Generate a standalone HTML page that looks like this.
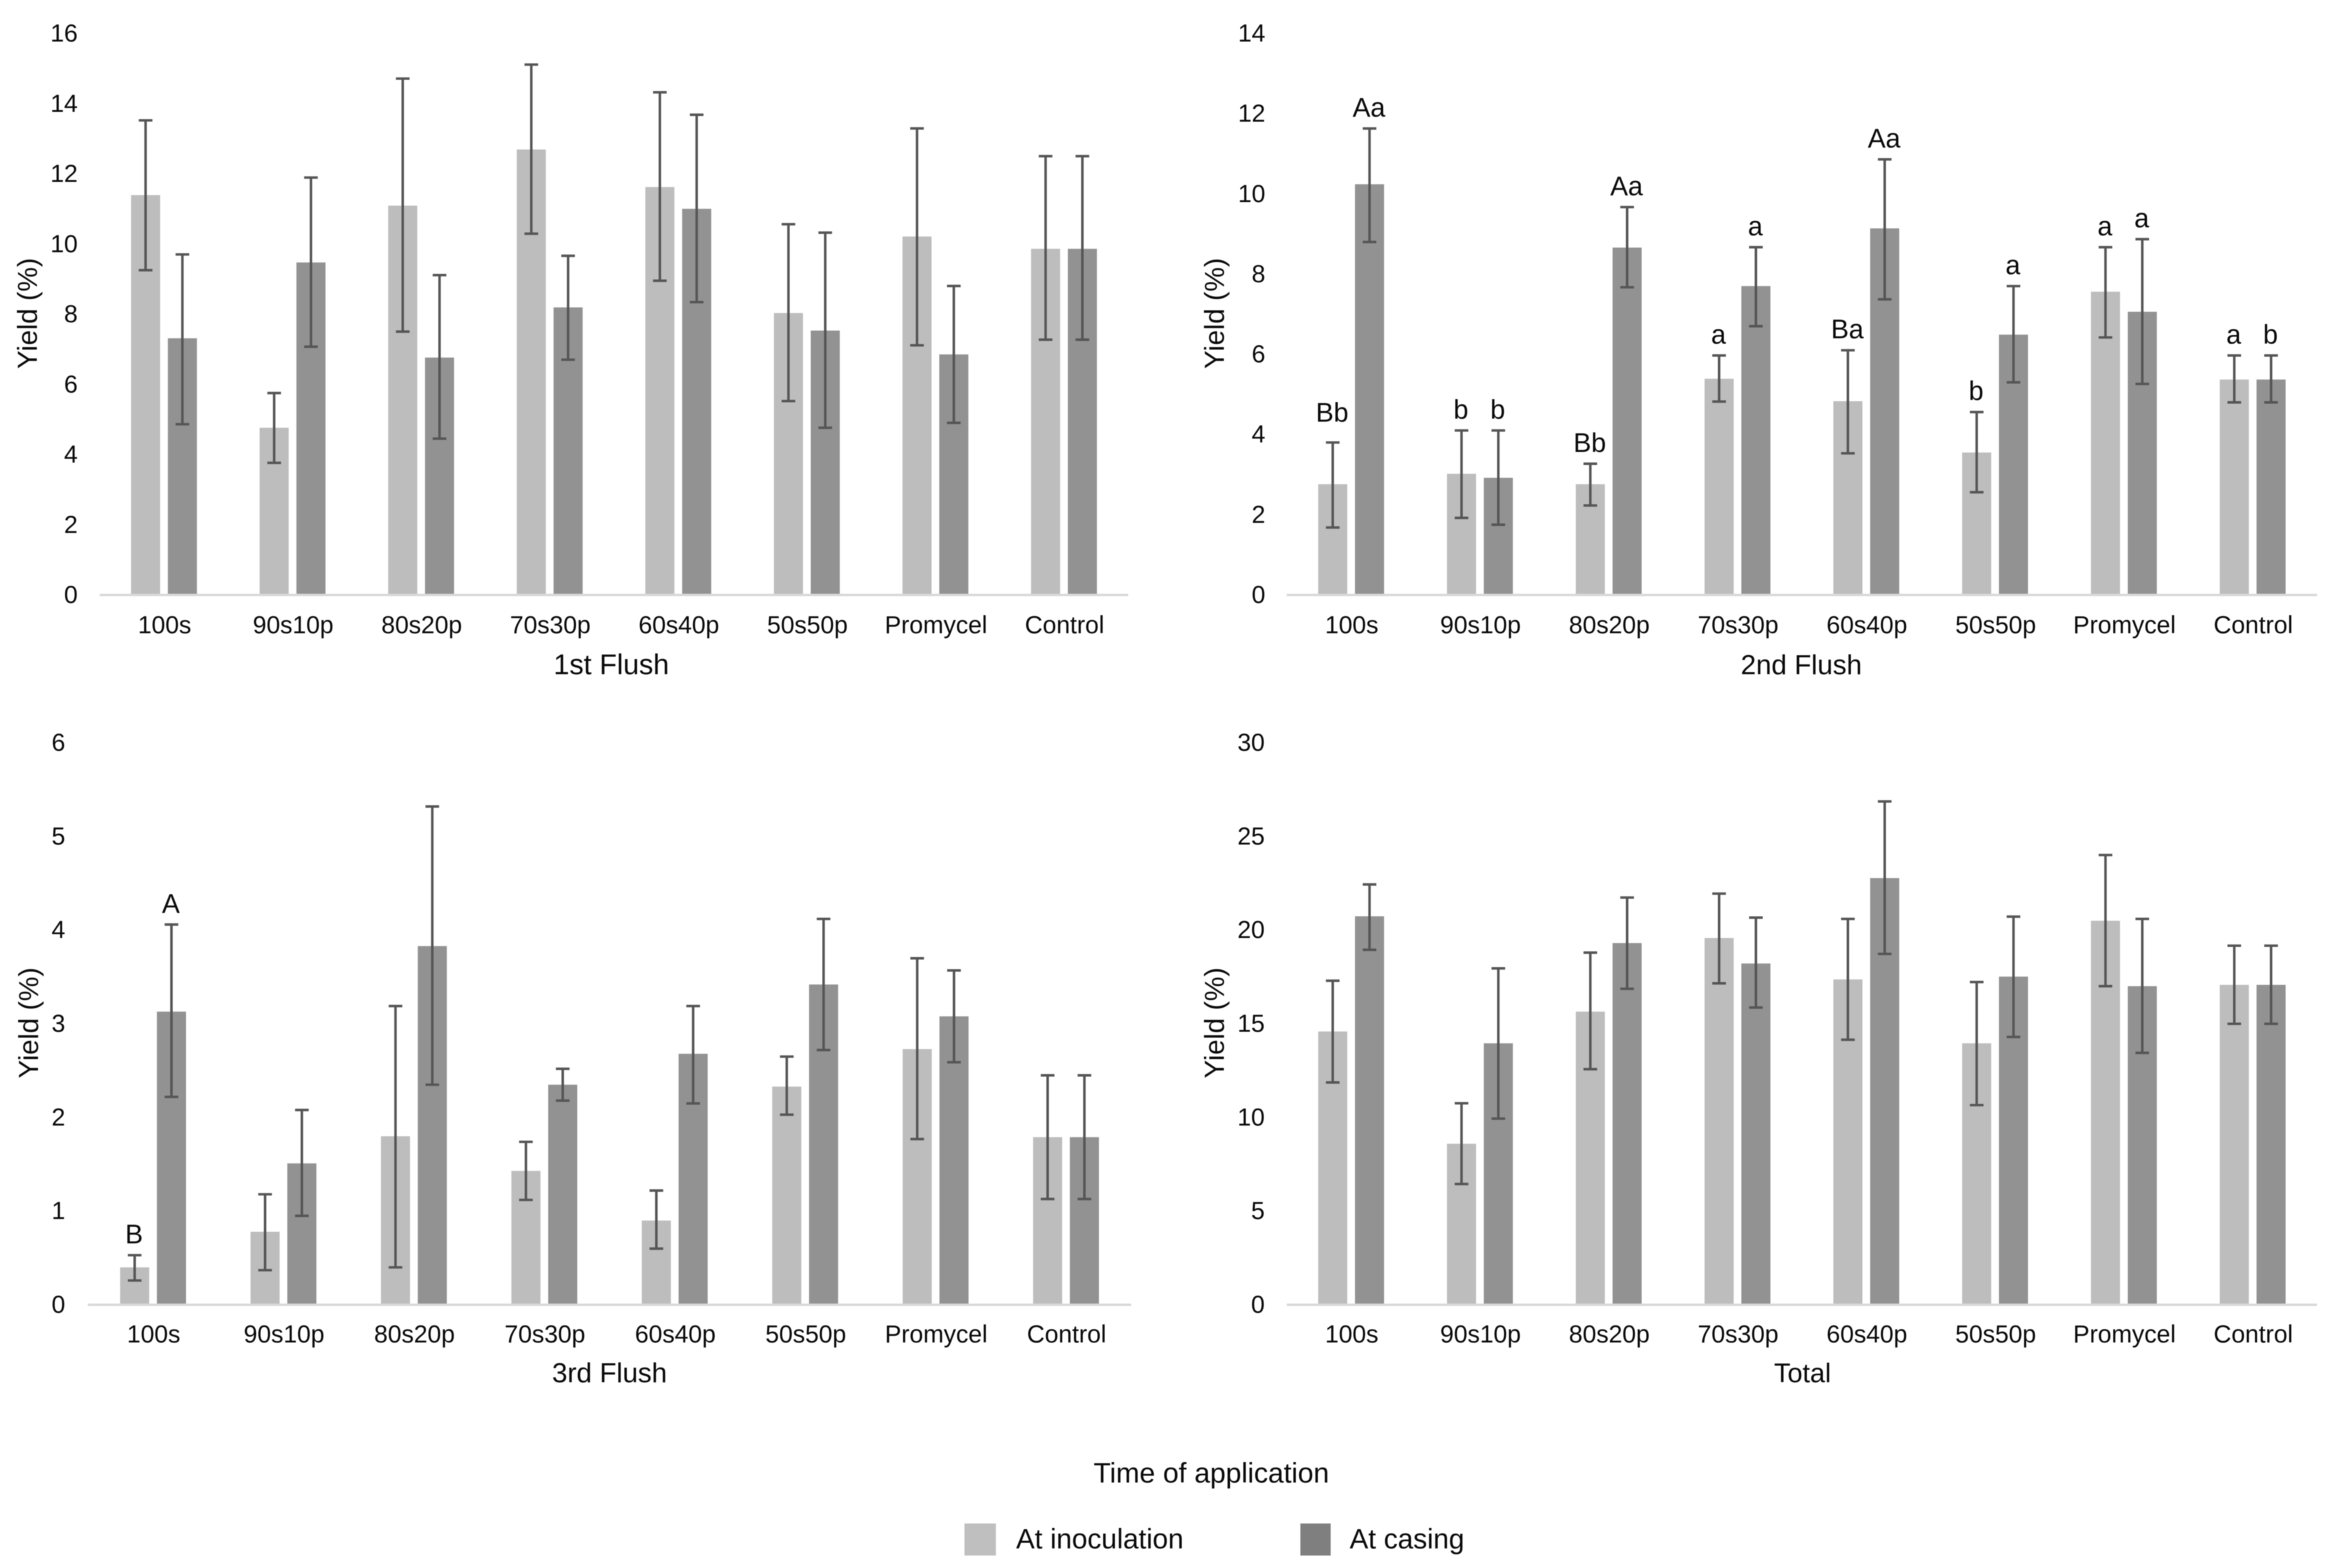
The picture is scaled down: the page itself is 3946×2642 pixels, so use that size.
<!DOCTYPE html>
<html lang="en">
<head>
<meta charset="utf-8">
<title>Yield by flush and time of application</title>
<style>
html,body{margin:0;padding:0;background:#fff;}
body{width:3946px;height:2642px;overflow:hidden;}
svg{display:block;filter:blur(0.7px);}
text{font-family:"Liberation Sans",Arial,sans-serif;fill:#0a0a0a;}
</style>
</head>
<body>
<svg id="figure" xmlns="http://www.w3.org/2000/svg" width="3946" height="2642" viewBox="0 0 3946 2642">
  <rect x="0" y="0" width="3946" height="2642" fill="#ffffff"/>
  <g>
    <text x="2041" y="2498" font-size="47.5" text-anchor="middle">Time of application</text>
    <rect x="1625" y="2567" width="53" height="54" fill="#bfbfbf"/>
    <text x="1712" y="2609" font-size="47">At inoculation</text>
    <rect x="2191" y="2567" width="51" height="54" fill="#7f7f7f"/>
    <text x="2274" y="2609" font-size="47">At casing</text>
  </g>
</svg>
<script>
const categories = ['100s','90s10p','80s20p','70s30p','60s40p','50s50p','Promycel','Control'];

const flush1Ticks = [0,2,4,6,8,10,12,14,16];
const flush1Inoc = [11.37,4.74,11.07,12.67,11.60,8.01,10.19,9.84];
const flush1InocHi = [13.50,5.73,14.69,15.09,14.30,10.54,13.27,12.48];
const flush1InocLo = [9.23,3.74,7.48,10.27,8.93,5.50,7.09,7.25];
const flush1Cas = [7.29,9.45,6.74,8.17,10.98,7.51,6.83,9.84];
const flush1CasHi = [9.68,11.87,9.09,9.64,13.66,10.30,8.78,12.48];
const flush1CasLo = [4.84,7.05,4.43,6.68,8.32,4.74,4.88,7.25];
const flush1InocLetters = ['','','','','','','',''];
const flush1CasLetters = ['','','','','','','',''];

const flush2Ticks = [0,2,4,6,8,10,12,14];
const flush2Inoc = [2.74,3.00,2.74,5.37,4.81,3.53,7.54,5.35];
const flush2InocHi = [3.78,4.08,3.25,5.95,6.08,4.54,8.65,5.95];
const flush2InocLo = [1.66,1.90,2.21,4.80,3.51,2.54,6.40,4.78];
const flush2Cas = [10.22,2.90,8.64,7.68,9.12,6.47,7.04,5.35];
const flush2CasHi = [11.61,4.08,9.65,8.65,10.84,7.68,8.85,5.95];
const flush2CasLo = [8.78,1.73,7.65,6.68,7.35,5.28,5.24,4.78];
const flush2InocLetters = ['Bb','b','Bb','a','Ba','b','a','a'];
const flush2CasLetters = ['Aa','b','Aa','a','Aa','a','a','b'];

const flush3Ticks = [0,1,2,3,4,5,6];
const flush3Inoc = [0.39,0.77,1.79,1.42,0.89,2.32,2.72,1.78];
const flush3InocHi = [0.52,1.17,3.18,1.73,1.21,2.64,3.69,2.44];
const flush3InocLo = [0.25,0.36,0.39,1.11,0.59,2.02,1.76,1.12];
const flush3Cas = [3.12,1.50,3.82,2.34,2.67,3.41,3.07,1.78];
const flush3CasHi = [4.05,2.07,5.31,2.51,3.18,4.11,3.56,2.44];
const flush3CasLo = [2.21,0.94,2.34,2.17,2.14,2.71,2.58,1.12];
const flush3InocLetters = ['B','','','','','','',''];
const flush3CasLetters = ['A','','','','','','',''];

const totalTicks = [0,5,10,15,20,25,30];
const totalInoc = [14.54,8.55,15.60,19.53,17.32,13.91,20.45,17.03];
const totalInocHi = [17.25,10.71,18.75,21.90,20.55,17.18,23.96,19.12];
const totalInocLo = [11.82,6.40,12.53,17.11,14.10,10.61,16.96,14.95];
const totalCas = [20.69,13.91,19.26,18.17,22.73,17.47,16.96,17.03];
const totalCasHi = [22.39,17.91,21.69,20.62,26.82,20.67,20.55,19.12];
const totalCasLo = [18.90,9.89,16.82,15.82,18.68,14.25,13.40,14.95];
const totalInocLetters = ['','','','','','','',''];
const totalCasLetters = ['','','','','','','',''];

const SVG_NS = 'http://www.w3.org/2000/svg';
const figure = document.getElementById('figure');

function node(parent, tag, attrs) {
  const el = document.createElementNS(SVG_NS, tag);
  Object.keys(attrs).forEach(function (k) { el.setAttribute(k, attrs[k]); });
  parent.appendChild(el);
  return el;
}

function drawPanel(p) {
  const band = (p.right - p.left) / categories.length;
  const maxTick = p.ticks[p.ticks.length - 1];
  const yScale = function (v) { return p.y0 - (v / maxTick) * (p.y0 - p.yTop); };
  const xScale = function (i) { return p.left + band * (i + 0.5); };

  const panel = node(figure, 'g', {});
  
  

  p.ticks.forEach(function (t) {
    const label = node(panel, 'text', {x: p.tickX, y: yScale(t) + 15, 'font-size': 41.5, 'text-anchor': 'end'});
    
    
    label.textContent = t;
  });

  const yTitleY = (p.y0 + p.yTop) / 2;
  const yTitle = node(panel, 'text', {x: p.yTitleX, y: yTitleY, 'font-size': 46.5, 'text-anchor': 'middle', transform: 'rotate(-90 ' + p.yTitleX + ' ' + yTitleY + ')'});
  
  
  yTitle.textContent = 'Yield (%)';

  categories.forEach(function (c, i) {
    const cx = xScale(i);
    const series = [
      {key: 'at-inoculation', v: p.inoc[i], hi: p.inocHi[i], lo: p.inocLo[i], letter: p.inocLetters[i], fill: '#bdbdbd', dx: -31},
      {key: 'at-casing', v: p.cas[i], hi: p.casHi[i], lo: p.casLo[i], letter: p.casLetters[i], fill: '#929292', dx: 31}
    ];
    series.forEach(function (s) {
      const bx = cx + s.dx;
      const bar = node(panel, 'rect', {x: bx - 24.5, y: yScale(s.v), width: 49, height: p.y0 - yScale(s.v), fill: s.fill});
      
      
    });
    series.forEach(function (s) {
      const bx = cx + s.dx;
      const err = node(panel, 'path', {d: 'M' + (bx - 11.5) + ' ' + yScale(s.hi) + 'H' + (bx + 11.5) + 'M' + bx + ' ' + yScale(s.hi) + 'V' + yScale(s.lo) + 'M' + (bx - 11.5) + ' ' + yScale(s.lo) + 'H' + (bx + 11.5), fill: 'none', stroke: '#555555', 'stroke-width': 4.2});
      
      
      if (s.letter) {
        const lift = s.letter === 'Bb' && i === 0 ? 35 : 20;
        const tag = node(panel, 'text', {x: bx - 1, y: yScale(s.hi) - lift, 'font-size': 45, 'text-anchor': 'middle'});
        
        
        tag.textContent = s.letter;
      }
    });
    const catLabel = node(panel, 'text', {x: cx + 1, y: p.catY, 'font-size': 41.5, 'text-anchor': 'middle'});
    
    
    catLabel.textContent = c;
  });

  const axis = node(panel, 'line', {x1: p.left, x2: p.right, y1: p.y0 + 1.5, y2: p.y0 + 1.5, stroke: '#d9d9d9', 'stroke-width': 4});
  
  

  const xTitle = node(panel, 'text', {x: p.titleX, y: p.titleY, 'font-size': p.titleSize, 'text-anchor': 'middle'});
  
  
  xTitle.textContent = p.title;
}

drawPanel({slug: '1st-flush', title: '1st Flush', ticks: flush1Ticks,
  inoc: flush1Inoc, inocHi: flush1InocHi, inocLo: flush1InocLo, inocLetters: flush1InocLetters,
  cas: flush1Cas, casHi: flush1CasHi, casLo: flush1CasLo, casLetters: flush1CasLetters,
  left: 168, right: 1901, y0: 1001, yTop: 55, tickX: 131, yTitleX: 62, catY: 1067, titleX: 1030, titleY: 1136, titleSize: 48});

drawPanel({slug: '2nd-flush', title: '2nd Flush', ticks: flush2Ticks,
  inoc: flush2Inoc, inocHi: flush2InocHi, inocLo: flush2InocLo, inocLetters: flush2InocLetters,
  cas: flush2Cas, casHi: flush2CasHi, casLo: flush2CasLo, casLetters: flush2CasLetters,
  left: 2168, right: 3904, y0: 1001, yTop: 55, tickX: 2132, yTitleX: 2062, catY: 1067, titleX: 3035, titleY: 1136, titleSize: 46.5});

drawPanel({slug: '3rd-flush', title: '3rd Flush', ticks: flush3Ticks,
  inoc: flush3Inoc, inocHi: flush3InocHi, inocLo: flush3InocLo, inocLetters: flush3InocLetters,
  cas: flush3Cas, casHi: flush3CasHi, casLo: flush3CasLo, casLetters: flush3CasLetters,
  left: 148, right: 1906, y0: 2197, yTop: 1250, tickX: 110, yTitleX: 64, catY: 2262, titleX: 1027, titleY: 2329, titleSize: 46.5});

drawPanel({slug: 'total', title: 'Total', ticks: totalTicks,
  inoc: totalInoc, inocHi: totalInocHi, inocLo: totalInocLo, inocLetters: totalInocLetters,
  cas: totalCas, casHi: totalCasHi, casLo: totalCasLo, casLetters: totalCasLetters,
  left: 2168, right: 3904, y0: 2197, yTop: 1250, tickX: 2131, yTitleX: 2062, catY: 2262, titleX: 3037, titleY: 2329, titleSize: 45.5});
</script>
</body>
</html>
